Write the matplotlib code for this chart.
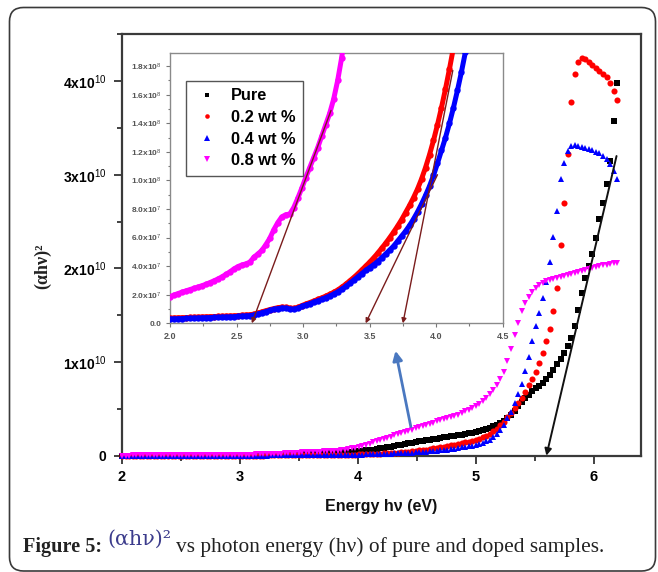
import numpy as np
import matplotlib
matplotlib.use("Agg")
import matplotlib.pyplot as plt
from matplotlib.patches import FancyBboxPatch
from matplotlib.transforms import IdentityTransform
from matplotlib.ticker import FixedLocator, MultipleLocator

plt.rcParams["font.family"] = ["Liberation Sans", "DejaVu Sans"]
plt.rcParams["mathtext.fontset"] = "custom"
plt.rcParams["mathtext.rm"] = "Liberation Sans"
plt.rcParams["mathtext.it"] = "Liberation Sans:italic"
plt.rcParams["mathtext.bf"] = "Liberation Sans:bold"

# photon energy grid (eV)
energy_ev = np.round(np.arange(2.0, 6.2001, 0.03), 2)

# (alpha h nu)^2 for each sample, in units of 1e7
pure = [
    0.5, 0.6, 0.7, 0.8, 0.9, 1.0, 1.1, 1.2, 1.3, 1.4,
    1.5, 1.6, 1.7, 1.8, 1.9, 2.0, 2.1, 2.2, 2.3, 2.4,
    2.5, 2.7, 2.9, 3.1, 3.3, 3.5, 3.7, 3.9, 4.1, 4.3,
    4.5, 4.8, 5.1, 5.4, 5.7, 6.0, 6.4, 6.8, 7.2, 7.6,
    8, 8.5, 9, 9.5, 10, 11, 12, 13, 14, 15,
    16, 17, 18, 19.5, 21, 22.5, 24, 25.5, 27, 29,
    31, 33, 35, 37.5, 40, 43, 46, 49, 52, 56,
    60, 65, 71, 77, 83, 89, 96, 103, 110, 117,
    124, 131, 138, 145, 152, 159, 165, 171, 177, 183,
    189, 195, 201, 207, 213, 219, 225, 232, 239, 246,
    254, 263, 273, 285, 298, 313, 330, 350, 372, 400,
    435, 480, 530, 575, 615, 652, 688, 718, 745, 775,
    815, 865, 920, 975, 1035, 1100, 1170, 1260, 1390, 1560,
    1740, 1900, 2030, 2150, 2330, 2530, 2700, 2900, 3150, 3570, 3980,
]
wt02 = [
    0.36, 0.37, 0.38, 0.39, 0.40, 0.41, 0.42, 0.43, 0.44, 0.45,
    0.46, 0.47, 0.48, 0.49, 0.50, 0.51, 0.52, 0.54, 0.56, 0.58,
    0.60, 0.64, 0.71, 0.80, 0.88, 0.96, 1.03, 1.09, 1.13, 1.11,
    1.06, 1.04, 1.11, 1.24, 1.35, 1.45, 1.56, 1.67, 1.78, 1.90,
    2.03, 2.17, 2.33, 2.52, 2.73, 2.96, 3.20, 3.45, 3.72, 4.00,
    4.28, 4.58, 4.90, 5.25, 5.60, 5.98, 6.38, 6.80, 7.25, 7.75,
    8.25, 8.80, 9.40, 10.1, 10.9, 11.8, 12.8, 13.9, 15.1, 16.4,
    17.8, 19.3, 21.0, 22.8, 24.7, 26.7, 28.8, 31.0, 33.3, 36.5,
    40, 44, 48, 52, 56, 61, 66, 72, 78, 84,
    90, 96, 103, 110, 117, 125, 133, 141, 150, 159,
    168, 181, 196, 214, 235, 260, 290, 325, 365, 410,
    455, 505, 560, 620, 685, 750, 815, 890, 990, 1100,
    1220, 1350, 1540, 1790, 2250, 2700, 3220, 3780, 4080, 4200,
    4250, 4240, 4205, 4170, 4140, 4110, 4080, 4040, 3975, 3890, 3800,
]
wt04 = [
    0.30, 0.31, 0.32, 0.33, 0.34, 0.35, 0.36, 0.37, 0.38, 0.39,
    0.40, 0.41, 0.42, 0.43, 0.44, 0.45, 0.46, 0.48, 0.50, 0.52,
    0.54, 0.58, 0.65, 0.74, 0.82, 0.90, 0.97, 1.03, 1.07, 1.05,
    1.00, 0.98, 1.05, 1.18, 1.28, 1.38, 1.48, 1.58, 1.68, 1.80,
    1.92, 2.05, 2.20, 2.38, 2.58, 2.80, 3.02, 3.25, 3.48, 3.70,
    3.90, 4.10, 4.32, 4.58, 4.85, 5.12, 5.40, 5.75, 6.10, 6.45,
    6.85, 7.30, 7.80, 8.35, 8.95, 9.60, 10.35, 11.2, 12.1, 13.0,
    14.0, 15.1, 16.3, 17.6, 19.0, 20.5, 22.0, 23.5, 25.0, 27.0,
    29, 31, 33, 35, 37, 40, 43, 46, 49, 53,
    57, 61, 66, 71, 76, 82, 88, 94, 101, 108,
    116, 126, 138, 153, 172, 196, 228, 272, 330, 400,
    470, 560, 660, 770, 900, 1050, 1220, 1380, 1520, 1680,
    1860, 2070, 2340, 2610, 2950, 3130, 3250, 3310, 3315, 3310,
    3300, 3290, 3278, 3265, 3248, 3230, 3205, 3170, 3120, 3040, 2950,
]
wt08 = [
    1.87, 1.98, 2.08, 2.18, 2.27, 2.36, 2.45, 2.54, 2.63, 2.73,
    2.85, 2.97, 3.10, 3.25, 3.42, 3.60, 3.80, 3.97, 4.08, 4.16,
    4.28, 4.62, 4.85, 5.10, 5.50, 5.95, 6.55, 7.05, 7.45, 7.60,
    7.65, 8.10, 8.75, 9.45, 10.2, 10.9, 11.6, 12.3, 13.1, 13.9,
    14.7, 15.7, 17.0, 18.6, 20.5, 22.5, 24.5, 26.5, 28.5, 30.5,
    32.5, 34.5, 36.5, 38.5, 40.5, 42.5, 44.5, 46.5, 48.5, 50.5,
    52.5, 55, 59, 64, 70, 77, 86, 96, 107, 118,
    130, 142, 154, 166, 178, 190, 203, 216, 229, 242,
    255, 267, 279, 291, 303, 315, 327, 340, 353, 366,
    378, 389, 400, 412, 425, 439, 455, 472, 490, 510,
    532, 557, 585, 618, 655, 700, 755, 820, 895, 1010,
    1140, 1290, 1420, 1540, 1630, 1700, 1750, 1790, 1820, 1845,
    1862, 1875, 1887, 1898, 1908, 1918, 1928, 1938, 1950, 1962,
    1972, 1982, 1992, 2002, 2012, 2022, 2032, 2040, 2048, 2055, 2060,
]
for s in (pure, wt02, wt04, wt08):
    assert len(s) == len(energy_ev)

unit = 1e7
labels = ["Pure", "0.2 wt %", "0.4 wt %", "0.8 wt %"]
colors = ["#000000", "#ff0000", "#0000ff", "#ff00ff"]
markers = ["s", "o", "^", "v"]
marker_sizes = [3.9, 4.4, 5.0, 5.0]

main_xticks = [2, 3, 4, 5, 6]
main_yticks = [0, 1e10, 2e10, 3e10, 4e10]
main_yticklabels = ["0", "1x10$^{10}$", "2x10$^{10}$", "3x10$^{10}$", "4x10$^{10}$"]

inset_xticks = [2.0, 2.5, 3.0, 3.5, 4.0, 4.5]
inset_yticks = [0, 2e7, 4e7, 6e7, 8e7, 1e8, 1.2e8, 1.4e8, 1.6e8, 1.8e8]
inset_yticklabels = ["0.0", "2.0x10$^7$", "4.0x10$^7$", "6.0x10$^7$", "8.0x10$^7$",
                     "1.0x10$^8$", "1.2x10$^8$", "1.4x10$^8$", "1.6x10$^8$", "1.8x10$^8$"]

# linear extrapolations: (energy, value) of the upper end and the energy-axis intercept
pure_fit_top = (6.195, 3.2e10)
pure_fit_gap = 5.60
inset_fit_tops = [(3.21, 14.9e7), (4.01, 10.4e7), (4.125, 17.7e7)]
inset_fit_gaps = [2.615, 3.47, 3.75]
pointer_from = (4.45, 0.31e10)
pointer_to = (4.32, 1.12e10)

W, H = 658, 572
fig = plt.figure(figsize=(W / 100, H / 100), dpi=100)

# rounded frame around the figure and caption
frame = FancyBboxPatch((9.5, 1.0), 646, 563.5,
                       boxstyle="round,pad=0,rounding_size=14",
                       transform=IdentityTransform(), fill=False,
                       ec="#3a3a3a", lw=1.2)
fig.add_artist(frame)

ax = fig.add_axes([122 / W, 1 - 455.7 / H, (640.7 - 122) / W, (455.7 - 34.3) / H])
handles = []
for lab, vals, c, m, ms in zip(labels, [pure, wt02, wt04, wt08], colors, markers, marker_sizes):
    h, = ax.plot(energy_ev, np.asarray(vals) * unit, linestyle="none", marker=m,
                 ms=ms, mew=0, color=c, label=lab, clip_on=False, zorder=3)
    handles.append(h)

ax.set_xlim(2, 6.4)
ax.set_ylim(0, 4.5e10)
ax.xaxis.set_major_locator(FixedLocator(main_xticks))
ax.xaxis.set_minor_locator(MultipleLocator(0.5))
ax.yaxis.set_major_locator(FixedLocator(main_yticks))
ax.yaxis.set_minor_locator(MultipleLocator(0.5e10))
ax.set_xticklabels([str(t) for t in main_xticks], fontweight="bold", fontsize=10.5)
ax.set_yticklabels(main_yticklabels, fontweight="bold", fontsize=10)
ax.tick_params(axis="both", which="both", direction="out", top=False, right=False,
               color="#333333", width=1.3)
ax.tick_params(axis="both", which="major", length=5.5)
ax.tick_params(axis="both", which="minor", length=3.5)
ax.tick_params(axis="x", which="major", pad=4.5)
ax.tick_params(axis="y", which="major", pad=6)
for sp in ax.spines.values():
    sp.set_color("#3a3a3a")
    sp.set_linewidth(1.6)

ax.annotate("", xy=(pure_fit_gap, 0), xytext=pure_fit_top,
            arrowprops=dict(arrowstyle="-|>", color="#111111", lw=1.4,
                            mutation_scale=10, shrinkA=0, shrinkB=0), zorder=4)
ax.annotate("", xy=pointer_to, xytext=pointer_from,
            arrowprops=dict(arrowstyle="-|>", color="#4a78c0", lw=2.0,
                            mutation_scale=14, shrinkA=0, shrinkB=0), zorder=4)

fig.text(381 / W, 1 - 506.5 / H, "Energy h\u03bd (eV)", ha="center", va="center",
         fontsize=11.5, fontweight="bold", color="#111111")
fig.text(43 / W, 1 - 266 / H, "(\u03b1h\u03bd)\u00b2", ha="center", va="center",
         rotation=90, fontsize=13, fontweight="bold",
         family=["Liberation Serif", "DejaVu Serif"], color="#222222")

# magnified view of the low-energy region
ins = fig.add_axes([170 / W, 1 - 323.3 / H, (502.7 - 170) / W, (323.3 - 53.3) / H])
for vals, c in zip([wt02, wt04, wt08], colors[1:]):
    ins.plot(energy_ev, np.asarray(vals) * unit, linestyle="-", lw=3.6,
             solid_capstyle="round", solid_joinstyle="round", marker="o",
             ms=4.6, mew=0, color=c, zorder=3)
ins.set_xlim(2.0, 4.5)
ins.set_ylim(0, 1.89e8)
ins.xaxis.set_major_locator(FixedLocator(inset_xticks))
ins.xaxis.set_minor_locator(MultipleLocator(0.25))
ins.yaxis.set_major_locator(FixedLocator(inset_yticks))
ins.yaxis.set_minor_locator(MultipleLocator(1e7))
ins.set_xticklabels([f"{t:.1f}" for t in inset_xticks], fontsize=6.5,
                    fontweight="bold", color="#555555")
ins.set_yticklabels(inset_yticklabels, fontsize=6, fontweight="bold", color="#555555")
ins.tick_params(axis="both", which="both", direction="out", top=False, right=False,
                color="#777777", width=0.8)
ins.tick_params(axis="both", which="major", length=3, pad=3)
ins.tick_params(axis="both", which="minor", length=1.8)
for sp in ins.spines.values():
    sp.set_color("#8a8a8a")
    sp.set_linewidth(1.0)

for (xt, yt), gap in zip(inset_fit_tops, inset_fit_gaps):
    ins.annotate("", xy=(gap, 0), xytext=(xt, yt),
                 arrowprops=dict(arrowstyle="-|>", color="#7a1c1c", lw=1.0,
                                 mutation_scale=7, shrinkA=0, shrinkB=0),
                 zorder=4, annotation_clip=False)

leg = ins.legend(handles=handles, loc="upper left", bbox_to_anchor=(0.047, 0.897),
                 borderaxespad=0, frameon=True, fancybox=False, edgecolor="#555555",
                 framealpha=1, prop={"weight": "bold", "size": 11.8},
                 handlelength=1.75, handletextpad=0.58, labelspacing=0.4,
                 markerscale=0.75, borderpad=0.45)
leg.get_frame().set_linewidth(1.0)

# caption below the chart
renderer = fig.canvas.get_renderer()


def caption_piece(text, x_px, base_px, width_px=None, **kw):
    t = fig.text(x_px / W, 1 - base_px / H, text, ha="left", va="baseline", **kw)
    if width_px is not None:
        w = t.get_window_extent(renderer).width
        t.set_fontsize(t.get_fontsize() * width_px / w)
    return t


serif = ["Liberation Serif", "DejaVu Serif"]
caption_piece("Figure 5:", 22.7, 552, 79, family=serif, fontweight="bold",
              fontsize=13, color="#222222")
caption_piece("(\u03b1h\u03bd)\u00b2", 107, 545, 64,
              family=["DejaVu Serif", "Liberation Serif"], fontsize=12, color="#3c3c8c")
caption_piece("vs photon energy (h\u03bd) of pure and doped samples.", 176.5, 552, 425,
              family=serif, fontsize=13, color="#222222")

fig.savefig("out.png", dpi=100)
